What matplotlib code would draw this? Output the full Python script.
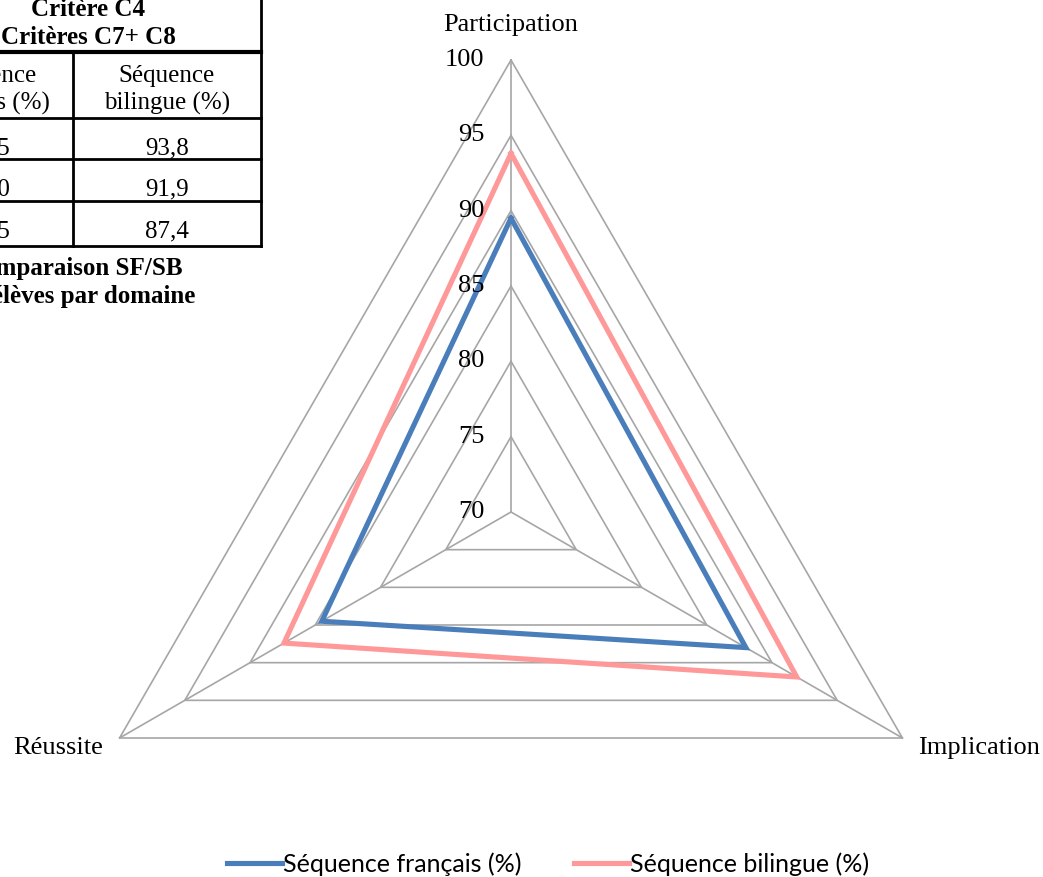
import numpy as np
import matplotlib.pyplot as plt
from matplotlib.lines import Line2D

# DONNÉES
categories = ["Participation", "Implication", "Réussite"]
sf = [89.5, 88.0, 84.5]          # Séquence français (%)
sb = [93.8, 91.9, 87.4]          # Séquence bilingue (%)
labels = ["Séquence français (%)", "Séquence bilingue (%)"]
colors = ["#4A7EBB", "#FF9999"]
levels = [70, 75, 80, 85, 90, 95, 100]

W, H = 1043, 877
serif = "Liberation Serif"


def px(x, y):
    # pixels (depuis le haut) -> coordonnées figure
    return x / W, 1 - y / H


fig = plt.figure(figsize=(W / 100, H / 100), dpi=100)

# RADAR
cx, cy, R = 511, 512, 452
ax = fig.add_axes([(cx - R) / W, (H - cy - R) / H, 2 * R / W, 2 * R / H], projection="polar")
ax.set_theta_offset(np.pi / 2)
ax.set_theta_direction(-1)
ax.set_ylim(levels[0], levels[-1])
ax.set_axis_off()

theta = np.linspace(0, 2 * np.pi, len(categories), endpoint=False)
theta_c = np.append(theta, theta[0])

for lv in levels[1:]:
    ax.plot(theta_c, [lv] * len(theta_c), color="#A6A6A6", lw=1.2, zorder=1, clip_on=False)
for t in theta:
    ax.plot([t, t], [levels[0], levels[-1]], color="#A6A6A6", lw=1.2, zorder=1, clip_on=False)

series = []
for vals, lab, col in zip([sf, sb], labels, colors):
    l, = ax.plot(theta_c, list(vals) + [vals[0]], color=col, lw=3.7, label=lab,
                 solid_joinstyle="miter", zorder=3, clip_on=False)
    series.append(l)

for lv in levels:
    ax.annotate(str(lv), xy=(0, lv), xytext=(-19, 0), textcoords="offset points",
                ha="right", va="center", fontsize=19, family=serif, annotation_clip=False)

offsets = [((0, 25), "center"), ((11, -7), "left"), ((-12, -7), "right")]
for t, name, (off, ha) in zip(theta, categories, offsets):
    ax.annotate(name, xy=(t, levels[-1]), xytext=off, textcoords="offset points",
                ha=ha, va="center", fontsize=19, family=serif, annotation_clip=False)

fig.legend(handles=series, loc="center", bbox_to_anchor=(px(548, 864)), ncol=2, frameon=False,
           prop={"family": "Lato", "size": 18}, handlelength=2.2, handletextpad=0.05,
           columnspacing=2.1)

# FRAGMENT DU TABLEAU (haut à gauche)
tab_lines = [
    ((0, 261), (52, 52), 3.0),
    ((0, 261), (118, 118), 2.0),
    ((0, 261), (159, 159), 2.0),
    ((0, 261), (201, 201), 2.0),
    ((0, 261), (246, 246), 2.0),
    ((261, 261), (0, 246), 2.0),
    ((73, 73), (52, 246), 2.0),
]
for xs, ys, lw in tab_lines:
    p0, p1 = px(xs[0], ys[0]), px(xs[1], ys[1])
    fig.add_artist(Line2D([p0[0], p1[0]], [p0[1], p1[1]], color="black", lw=lw))

fig.text(*px(88, 10), "Critère C4", ha="center", va="center", fontsize=18, family=serif, weight="bold")
fig.text(*px(88, 38), "Critères C7+ C8", ha="center", va="center", fontsize=18, family=serif, weight="bold")
fig.text(*px(-12, 90), "Séquence\nfrançais (%)", ha="center", va="center", fontsize=18,
         family=serif, linespacing=1.25)
fig.text(*px(167, 90), "Séquence\nbilingue (%)", ha="center", va="center", fontsize=18,
         family=serif, linespacing=1.25)
for row_y, a, b in zip([148, 189, 231], sf, sb):
    fig.text(*px(-12, row_y), f"{a:.1f}".replace(".", ","), ha="center", va="center",
             fontsize=18, family=serif)
    fig.text(*px(167, row_y), f"{b:.1f}".replace(".", ","), ha="center", va="center",
             fontsize=18, family=serif)
fig.text(*px(183, 268), "Comparaison SF/SB", ha="right", va="center", fontsize=18, family=serif, weight="bold")
fig.text(*px(195, 297), "des élèves par domaine", ha="right", va="center", fontsize=18, family=serif, weight="bold")

plt.savefig("out.png", dpi=100)
